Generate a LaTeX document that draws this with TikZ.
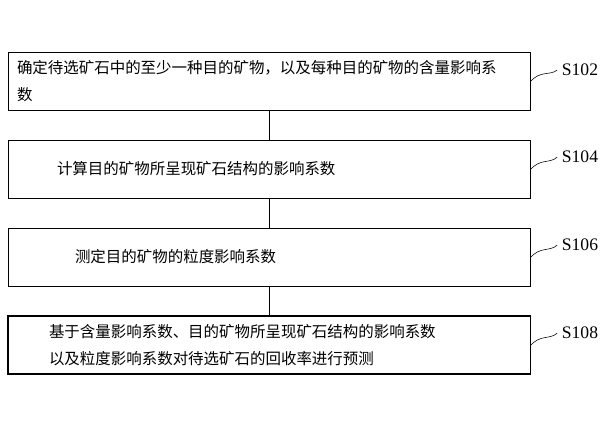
\documentclass[tikz,border=0pt]{standalone}
\usepackage{fontspec}
\setmainfont{Liberation Serif}
\newfontfamily\cjk{Noto Sans CJK SC}
\usetikzlibrary{positioning}
\begin{document}
\begin{tikzpicture}[x=0.025cm,y=-0.025cm,every node/.style={outer sep=0pt}]
\tikzstyle{stepbox}=[draw,thin,minimum width=13.05cm,minimum height=1.45cm,text width=12.6cm,inner xsep=0.2cm,align=left,font=\cjk\fontsize{11}{19}\selectfont,anchor=north west]
\tikzstyle{tag}=[font=\fontsize{12.5}{14}\selectfont]
\useasboundingbox (0,0) rectangle (600,429);

\node (s1) [stepbox] at (8,52) {确定待选矿石中的至少一种目的矿物，以及每种目的矿物的含量影响系\\数};
\node (s2) [stepbox] at (8,140) {\hspace*{1cm}计算目的矿物所呈现矿石结构的影响系数};
\node (s3) [stepbox] at (8,228) {\hspace*{1.45cm}测定目的矿物的粒度影响系数};
\node (s4) [stepbox,thick] at (8,316) {\hspace*{0.8cm}基于含量影响系数、目的矿物所呈现矿石结构的影响系数\\\hspace*{0.8cm}以及粒度影响系数对待选矿石的回收率进行预测};

\draw (s1) -- (s2);
\draw (s2) -- (s3);
\draw (s3) -- (s4);

\node (t1) [tag] at (580,70) {S102};
\node (t2) [tag] at (580,157) {S104};
\node (t3) [tag] at (580,245) {S106};
\node (t4) [tag] at (580,333) {S108};

\draw (s1.east |- 0,82) .. controls (540,70) and (550,76) .. (t1.west);
\draw (s2.east |- 0,170) .. controls (540,158) and (550,164) .. (t2.west);
\draw (s3.east |- 0,258) .. controls (540,246) and (550,252) .. (t3.west);
\draw (s4.east |- 0,346) .. controls (540,334) and (550,340) .. (t4.west);
\end{tikzpicture}
\end{document}
